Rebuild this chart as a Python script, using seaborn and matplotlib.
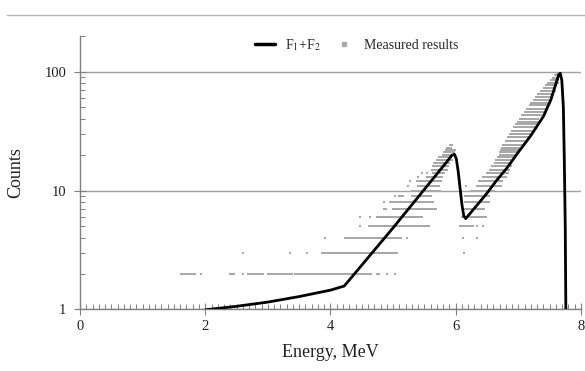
import numpy as np
import pandas as pd
import matplotlib
matplotlib.use("Agg")
import matplotlib.pyplot as plt
import seaborn as sns
from matplotlib.lines import Line2D
from matplotlib.ticker import MultipleLocator, LogLocator, FixedLocator, FixedFormatter, NullFormatter

# calculated spectrum F1+F2 (energy in MeV, counts)
fit_energy = [2.00, 2.50, 3.00, 3.50, 4.00, 4.22, 5.00, 5.86, 5.94, 5.98, 6.01, 6.04, 6.07, 6.10, 6.13, 6.16,
              6.30, 6.50, 6.66, 6.82, 7.00, 7.20, 7.40, 7.52, 7.60, 7.645, 7.67, 7.695, 7.72, 7.735, 7.75, 7.76]
fit_counts = [0.99, 1.06, 1.15, 1.28, 1.45, 1.57, 4.85, 17.5, 19.8, 20.2, 18.5, 14.5, 10.5, 7.6, 6.1, 5.8,
              7.1, 9.5, 12.3, 15.5, 21.0, 29.0, 42.0, 58.0, 79.0, 94.0, 97.0, 85.0, 50.0, 18.0, 5.0, 0.9]

# measured results: runs of channels sharing the same count value
meas_count = [2, 2, 2, 2, 2, 2, 2, 2, 2, 2,
              3, 3, 3, 3, 3,
              4, 4, 4, 4, 4,
              5, 5, 5, 5, 5,
              6, 6, 6, 6,
              7, 7, 7,
              8, 8, 8,
              9, 9, 9, 9,
              10, 10,
              11, 11, 11, 11,
              12, 12, 12,
              13, 13, 13,
              14, 14, 14, 14,
              15, 15, 16, 16, 17, 17, 18, 18, 19, 19, 20, 20, 21, 21, 22, 22, 23, 23, 24, 24,
              26, 28, 30, 32, 34, 36, 38, 40, 43, 46, 49, 52, 55, 58, 61, 65,
              69, 73, 77, 81, 85, 89, 93, 96]
meas_from = [1.62, 1.94, 2.40, 2.61, 2.69, 3.00, 3.44, 4.74, 4.90, 5.03,
             2.61, 3.36, 3.62, 3.86, 6.14,
             3.91, 4.23, 5.22, 6.12, 6.34,
             4.47, 4.62, 6.07, 6.34, 6.44,
             4.47, 4.63, 4.74, 6.10,
             4.85, 5.00, 6.12,
             4.85, 4.95, 6.15,
             5.03, 5.10, 5.30, 6.15,
             5.30, 6.25,
             5.24, 5.40, 6.17, 6.34,
             5.27, 5.38, 6.38,
             5.40, 5.54, 6.44,
             5.46, 5.54, 5.64, 6.50,
             5.62, 6.55, 5.64, 6.58, 5.66, 6.62, 5.70, 6.64, 5.74, 6.68, 5.80, 6.70, 5.82, 6.71, 5.84, 6.72, 5.86, 6.74, 5.91, 6.76,
             6.80, 6.84, 6.87, 6.90, 6.93, 6.96, 6.99, 7.02, 7.06, 7.10, 7.14, 7.18, 7.21, 7.25, 7.28, 7.32,
             7.37, 7.41, 7.45, 7.48, 7.52, 7.55, 7.59, 7.62]
meas_to = [1.85, 1.94, 2.46, 2.61, 2.94, 3.40, 4.66, 4.79, 4.90, 5.03,
           2.61, 3.36, 3.62, 5.06, 6.14,
           3.91, 5.15, 5.22, 6.12, 6.34,
           4.47, 5.59, 6.28, 6.34, 6.44,
           4.47, 4.63, 5.48, 6.50,
           4.90, 5.70, 6.45,
           4.85, 5.64, 6.55,
           5.03, 5.16, 5.62, 6.55,
           5.75, 6.62,
           5.24, 5.75, 6.17, 6.74,
           5.27, 5.78, 6.76,
           5.40, 5.80, 6.82,
           5.46, 5.54, 5.83, 6.85,
           5.86, 6.87, 5.88, 6.89, 5.90, 6.90, 5.94, 6.92, 5.94, 6.95, 5.99, 6.98, 5.97, 7.00, 5.99, 7.02, 5.94, 7.04, 5.94, 7.06,
           7.12, 7.17, 7.20, 7.23, 7.26, 7.29, 7.32, 7.34, 7.38, 7.42, 7.45, 7.48, 7.50, 7.52, 7.54, 7.56,
           7.58, 7.60, 7.62, 7.63, 7.64, 7.65, 7.66, 7.66]
channel_width = 0.03

sns.set_theme(style="white")
plt.rcParams["font.family"] = ["Liberation Serif", "DejaVu Serif"]
plt.rcParams["mathtext.fontset"] = "stix"

pts = []
for c, a, b in zip(meas_count, meas_from, meas_to):
    for e in np.arange(a, b + 1e-6, channel_width):
        pts.append((e, c))
meas = pd.DataFrame(pts, columns=["energy", "counts"])
fit = pd.DataFrame({"energy": fit_energy, "counts": fit_counts})

fig = plt.figure(figsize=(5.85, 3.71), dpi=100)
ax = fig.add_axes([0.1368, 0.1663, 0.8562, 0.7367])

sns.scatterplot(data=meas, x="energy", y="counts", ax=ax, marker="s", s=3,
                color="#a8a8a8", linewidth=0, zorder=2, legend=False)
sns.lineplot(data=fit, x="energy", y="counts", ax=ax, color="black", lw=2,
             sort=False, estimator=None, zorder=3, legend=False)

ax.set_yscale("log")
ax.set_ylim(1, 200)
ax.set_xlim(0, 8)
ax.yaxis.set_major_locator(FixedLocator([1, 10, 100]))
ax.yaxis.set_major_formatter(FixedFormatter(["1", "10", "100"]))
ax.yaxis.set_minor_locator(LogLocator(base=10, subs=np.arange(2, 10)))
ax.yaxis.set_minor_formatter(NullFormatter())
ax.xaxis.set_major_locator(MultipleLocator(2))
ax.xaxis.set_minor_locator(MultipleLocator(0.1))

ax.yaxis.grid(True, which="major", color="#a0a0a0", lw=1)
ax.xaxis.grid(False)
for s in ["top", "right"]:
    ax.spines[s].set_visible(False)
for s in ["left", "bottom"]:
    ax.spines[s].set_color("#808080")
    ax.spines[s].set_linewidth(1)

ax.tick_params(which="both", bottom=True, left=True, top=False, right=False)
ax.tick_params(which="major", direction="inout", length=8, width=0.8, color="#808080",
               labelsize=10.5, labelcolor="#222222")
ax.tick_params(axis="x", which="major", pad=4)
ax.tick_params(axis="y", which="major", pad=6)
ax.tick_params(which="minor", direction="in", length=3.5, width=0.7, color="#808080")

ax.set_xlabel("Energy, MeV", fontsize=13, color="#222222")
ax.set_ylabel("Counts", fontsize=13, color="#222222")
ax.xaxis.set_label_coords(0.5, -0.128)
ax.yaxis.set_label_coords(-0.112, 0.5)

handles = [Line2D([], [], color="black", lw=2.5),
           Line2D([], [], color="#a8a8a8", marker="s", markersize=3, linestyle="none")]
ax.legend(handles, [r"F$_1$+F$_2$", "Measured results"], loc="center",
          bbox_to_anchor=(0.552, 0.967), ncol=2, frameon=False, fontsize=10,
          handlelength=1.45, handletextpad=0.7, columnspacing=1.0)

fig.add_artist(Line2D([0.012, 1.0], [0.9596, 0.9596], transform=fig.transFigure,
                      color="#b4b4b4", lw=1))

fig.savefig("out.png", dpi=100)
